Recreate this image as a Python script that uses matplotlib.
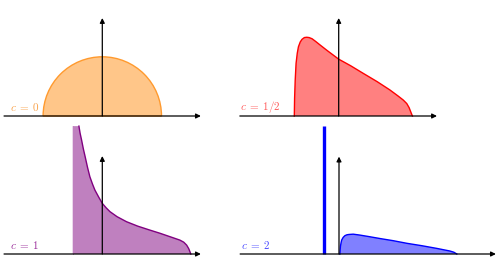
import matplotlib
matplotlib.use("Agg")
import matplotlib.pyplot as plt
from matplotlib.patches import Wedge

plt.rcParams['mathtext.fontset'] = 'cm'

# ---------------- data (units: x/y in plot units) ----------------
labels = [r"$c\;=\;0$", r"$c\;=\;1/2$", r"$c\;=\;1$", r"$c\;=\;2$"]
edge_colors = ["#FF9A2E", "#FF0000", "#800080", "#0000FF"]
fill_colors = ["#FFC689", "#FF8080", "#BF80BF", "#8080FF"]
label_colors = ["#F9A24A", "#FF5A5A", "#9A2C9A", "#4A4AFF"]

# c = 0 : semicircle
semicircle_radius = 2.0

# c = 1/2
x_half = [-1.50, -1.49, -1.47, -1.44, -1.40, -1.36, -1.30, -1.24, -1.16, -1.08, -1.00,
          -0.90, -0.78, -0.63, -0.40, -0.20, 0.00, 0.40, 0.83, 1.30, 1.73, 2.00, 2.18,
          2.30, 2.38, 2.43, 2.47, 2.49]
y_half = [0.00, 0.60, 1.20, 1.78, 2.12, 2.34, 2.50, 2.59, 2.65, 2.66, 2.65,
          2.61, 2.52, 2.40, 2.22, 2.07, 1.92, 1.70, 1.44, 1.16, 0.88, 0.68, 0.54,
          0.42, 0.28, 0.15, 0.05, 0.00]

# c = 1
x_one = [-1.00, -1.00, -0.79, -0.75, -0.70, -0.64, -0.58, -0.50, -0.42, -0.33, -0.25,
         -0.12, 0.00, 0.13, 0.26, 0.50, 0.82, 1.20, 1.60, 1.95, 2.30, 2.62, 2.75,
         2.85, 2.92, 2.96, 2.99]
y_one = [0.00, 4.32, 4.32, 4.08, 3.85, 3.55, 3.29, 2.93, 2.61, 2.36, 2.16,
         1.92, 1.71, 1.56, 1.43, 1.26, 1.09, 0.94, 0.81, 0.70, 0.58, 0.47, 0.40,
         0.30, 0.18, 0.08, 0.00]

# c = 2
x_two = [0.03, 0.04, 0.05, 0.07, 0.09, 0.14, 0.20, 0.27, 0.34, 0.48, 0.70, 1.00,
         1.40, 1.83, 2.30, 2.80, 3.30, 3.55, 3.75, 3.88, 3.98]
y_two = [0.00, 0.15, 0.27, 0.38, 0.47, 0.56, 0.62, 0.65, 0.66, 0.67, 0.64, 0.59,
         0.52, 0.45, 0.36, 0.28, 0.19, 0.14, 0.10, 0.06, 0.00]
atom_x = -0.50
atom_height = 4.32

# ---------------- layout ----------------
W, H = 498, 262
S = 29.6  # px per unit
fig = plt.figure(figsize=(W / 100, H / 100), dpi=100)

# (origin_x_px, origin_y_px_from_top, xlim, ylim, x-axis range, y-axis top, label x)
panels = [
    (102.3, 116, (-3.45, 3.45), (-0.15, 3.45), (-3.32, 3.33), 3.31, -3.12),
    (338.7, 116, (-3.45, 3.45), (-0.15, 3.45), (-3.34, 3.32), 3.31, -3.32),
    (102.3, 254, (-3.45, 3.45), (-0.15, 4.45), (-3.32, 3.33), 3.31, -3.12),
    (339.0, 254, (-3.45, 5.40), (-0.15, 4.45), (-3.34, 5.30), 3.29, -3.31),
]

axes = []
for (ox, oy, xl, yl, xr, ytop, lx) in panels:
    left = (ox + xl[0] * S) / W
    bottom = (H - (oy - yl[0] * S)) / H
    width = (xl[1] - xl[0]) * S / W
    height = (yl[1] - yl[0]) * S / H
    ax = fig.add_axes([left, bottom, width, height])
    ax.set_xlim(*xl)
    ax.set_ylim(*yl)
    ax.axis('off')
    ax.patch.set_visible(False)
    axes.append(ax)

# curves
a0, a1, a2, a3 = axes
a0.add_patch(Wedge((0, 0), semicircle_radius, 0, 180, facecolor=fill_colors[0],
                   edgecolor=edge_colors[0], lw=1.0, zorder=2, clip_on=False))
a1.fill(x_half, y_half, facecolor=fill_colors[1], edgecolor='none', zorder=2, clip_on=False)
a1.plot(x_half, y_half, color=edge_colors[1], lw=1.0, zorder=3, clip_on=False)
a2.fill(x_one, y_one, facecolor=fill_colors[2], edgecolor='none', zorder=2, clip_on=False)
a2.plot(x_one[2:], y_one[2:], color=edge_colors[2], lw=1.0, zorder=3, clip_on=False)
a2.plot(x_one[:2], y_one[:2], color=fill_colors[2], lw=0.6, zorder=3, clip_on=False)
a3.fill(x_two, y_two, facecolor=fill_colors[3], edgecolor='none', zorder=2, clip_on=False)
a3.plot(x_two, y_two, color=edge_colors[3], lw=1.0, zorder=3, clip_on=False)
a3.plot([atom_x, atom_x], [0, atom_height], color=edge_colors[3], lw=2.4,
        solid_capstyle='butt', zorder=3, clip_on=False)

# axes arrows and labels
for ax, (ox, oy, xl, yl, xr, ytop, lx), lab, lc in zip(axes, panels, labels, label_colors):
    ap = dict(arrowstyle='-|>', lw=0.9, color='black', mutation_scale=7,
              shrinkA=0, shrinkB=0)
    ax.annotate('', xy=(xr[1], 0), xytext=(xr[0], 0), arrowprops=ap,
                zorder=5, annotation_clip=False)
    ax.annotate('', xy=(0, ytop), xytext=(0, 0), arrowprops=ap,
                zorder=5, annotation_clip=False)
    ax.text(lx, 0.30, lab, color=lc, fontsize=8, ha='left', va='center', zorder=6)

fig.savefig('out.png', dpi=100)
